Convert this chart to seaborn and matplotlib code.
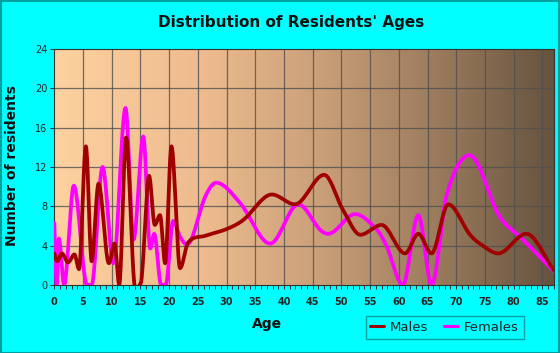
import numpy as np
import pandas as pd
import matplotlib
matplotlib.use("Agg")
import matplotlib.pyplot as plt
from matplotlib.colors import LinearSegmentedColormap
from matplotlib.patches import Rectangle
from matplotlib.lines import Line2D
import seaborn as sns

# ---- data (age, number of residents) ----
male_age = [0.0, 0.5, 1.3, 2.4, 3.5, 4.3, 5.5, 6.5, 7.7, 9.5, 10.5, 11.3, 12.5, 13.9, 15.0,
            16.5, 17.5, 18.4, 19.3, 20.4, 21.9, 23.3, 26.3, 30.1, 32.9, 37.9, 41.9, 47.0,
            50.3, 53.3, 57.0, 61.1, 63.4, 65.7, 68.6, 72.4, 74.6, 77.3, 82.2, 87.0]
male_val = [3.2, 2.4, 3.2, 2.3, 3.1, 1.6, 14.1, 2.4, 10.3, 2.2, 4.2, 0.0, 15.0, 0.3, 0.1,
            11.1, 6.1, 7.1, 2.2, 14.1, 1.7, 4.3, 5.0, 5.7, 6.6, 9.2, 8.2, 11.2,
            7.6, 5.1, 6.1, 3.2, 5.2, 3.2, 8.2, 5.1, 4.0, 3.2, 5.2, 1.5]

female_age = [0.0, 0.4, 0.8, 1.7, 3.4, 5.7, 6.5, 8.4, 10.3, 12.4, 13.8, 15.5, 16.7, 17.4,
              18.6, 19.4, 20.7, 21.9, 23.1, 26.3, 28.2, 32.4, 37.6, 42.5, 46.3, 47.7, 52.4,
              56.2, 57.9, 60.7, 63.4, 65.7, 68.4, 72.3, 77.5, 81.1, 87.0]
female_val = [6.3, 0.0, 4.7, 0.0, 10.1, 0.0, 0.0, 12.0, 2.2, 18.0, 4.6, 15.1, 3.7, 5.2,
              0.0, 0.0, 6.5, 4.9, 4.1, 9.0, 10.4, 8.3, 4.2, 8.2, 5.6, 5.2, 7.2,
              5.6, 3.9, 0.0, 7.1, 0.0, 9.3, 13.2, 7.0, 4.9, 1.4]

x_ticks = list(range(0, 90, 5))
y_ticks = [0, 4, 8, 12, 16, 20, 24]


def smooth(xs, ys, n=20):
    """Cubic Hermite smoothing for drawing the curve between read points."""
    xs = np.asarray(xs, float)
    ys = np.asarray(ys, float)
    m = np.zeros_like(ys)
    for i in range(len(xs)):
        if i == 0:
            m[i] = (ys[1] - ys[0]) / (xs[1] - xs[0])
        elif i == len(xs) - 1:
            m[i] = (ys[-1] - ys[-2]) / (xs[-1] - xs[-2])
        else:
            d0 = ys[i] - ys[i - 1]
            d1 = ys[i + 1] - ys[i]
            if d0 * d1 <= 0:
                m[i] = 0.0
            else:
                m[i] = (ys[i + 1] - ys[i - 1]) / (xs[i + 1] - xs[i - 1])
    ox, oy = [], []
    for i in range(len(xs) - 1):
        h = xs[i + 1] - xs[i]
        t = np.linspace(0, 1, n, endpoint=False)
        h00 = 2 * t**3 - 3 * t**2 + 1
        h10 = t**3 - 2 * t**2 + t
        h01 = -2 * t**3 + 3 * t**2
        h11 = t**3 - t**2
        ox.extend(xs[i] + t * h)
        oy.extend(h00 * ys[i] + h10 * h * m[i] + h01 * ys[i + 1] + h11 * h * m[i + 1])
    ox.append(xs[-1])
    oy.append(ys[-1])
    return np.array(ox), np.array(oy)


mx, my = smooth(male_age, male_val)
fx, fy = smooth(female_age, female_val)
df = pd.concat([
    pd.DataFrame({"Age": mx, "Residents": my, "Sex": "Males"}),
    pd.DataFrame({"Age": fx, "Residents": fy, "Sex": "Females"}),
])

sns.set_theme(style="white")
plt.rcParams["font.family"] = ["DejaVu Sans"]

fig = plt.figure(figsize=(5.6, 3.53), dpi=100, facecolor="#00FFFF")
ax = fig.add_axes([0.097, 0.193, 0.892, 0.668])

# gradient background of plot area
cmap = LinearSegmentedColormap.from_list(
    "bg", [(0.0, "#FDD1A0"), (0.3, "#EDBB8E"), (0.55, "#C79D77"),
           (0.78, "#98795B"), (1.0, "#66533F")])
grad = np.linspace(0, 1, 256).reshape(1, -1)
ax.imshow(grad, cmap=cmap, aspect="auto", extent=[0, 87, 0, 24], zorder=0)

for xv in x_ticks[1:]:
    ax.axvline(xv, color="#505050", lw=0.9, zorder=1, alpha=0.8)
for yv in y_ticks[1:-1]:
    ax.axhline(yv, color="#505050", lw=0.9, zorder=1, alpha=0.8)

palette = {"Males": "#A00000", "Females": "#FF00FF"}
sns.lineplot(data=df[df.Sex == "Females"], x="Age", y="Residents", color=palette["Females"],
             lw=2.7, sort=False, estimator=None, ax=ax, zorder=3, legend=False)
sns.lineplot(data=df[df.Sex == "Males"], x="Age", y="Residents", color=palette["Males"],
             lw=2.7, sort=False, estimator=None, ax=ax, zorder=4, legend=False)

ax.set_xlim(0, 87)
ax.set_ylim(0, 24)
ax.set_xticks(x_ticks)
ax.set_xticks(range(0, 88), minor=True)
ax.set_yticks(y_ticks)
ax.tick_params(axis="x", which="both", direction="out", length=3, width=0.7,
               color="#333333", labelsize=7, pad=6, bottom=True)
ax.tick_params(axis="y", which="both", direction="out", length=3, width=0.7,
               color="#333333", labelsize=7, pad=2, left=True)
for lab in ax.get_xticklabels():
    lab.set_fontweight("bold")
ax.set_xlabel("")
ax.set_ylabel("")
for s in ax.spines.values():
    s.set_color("#333333")
    s.set_linewidth(0.8)

fig.text(0.52, 0.935, "Distribution of Residents' Ages", ha="center", va="center",
         fontsize=11, fontweight="bold", color="#111111")
fig.text(0.022, 0.53, "Number of residents", rotation=90, ha="center", va="center",
         fontsize=10, fontweight="bold", color="#111111")
fig.text(0.477, 0.083, "Age", ha="center", va="center",
         fontsize=10, fontweight="bold", color="#111111")

handles = [Line2D([], [], color=palette["Males"], lw=2.2),
           Line2D([], [], color=palette["Females"], lw=2.2)]
leg = fig.legend(handles, ["Males", "Females"], loc="center",
                 bbox_to_anchor=(0.794, 0.072), ncol=2, frameon=True, fontsize=9.5,
                 handlelength=1.0, handletextpad=0.5, columnspacing=1.2,
                 borderpad=0.35, fancybox=False)
leg.get_frame().set_facecolor("#00FFFF")
leg.get_frame().set_edgecolor("#008B8B")
leg.get_frame().set_linewidth(1.0)

fig.patches.append(Rectangle((0.001, 0.001), 0.997, 0.997, transform=fig.transFigure,
                             fill=False, edgecolor="#00A0A0", lw=1.5))

fig.savefig("out.png", dpi=100, facecolor=fig.get_facecolor())
